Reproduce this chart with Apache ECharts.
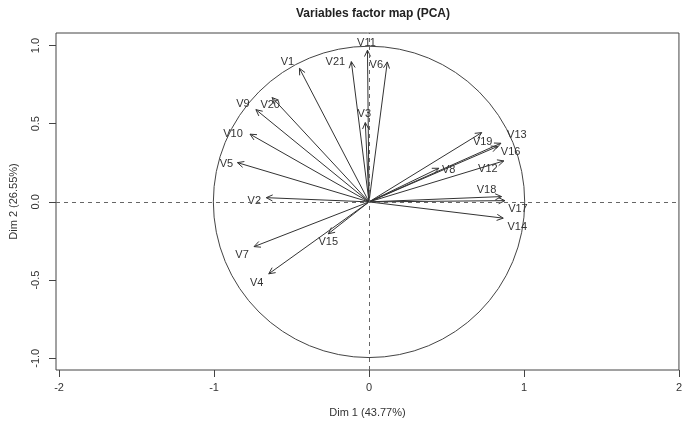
<!DOCTYPE html>
<html><head><meta charset="utf-8">
<script src="https://cdn.jsdelivr.net/npm/echarts@6/dist/echarts.min.js"></script>
<style>html,body{margin:0;padding:0;background:#fff}#c{width:685px;height:426px}</style>
</head><body><div id="c"></div>
<script>
// ---- data ----
const variables = ['V1','V2','V3','V4','V5','V6','V7','V8','V9','V10','V11','V12','V13','V14','V15','V16','V17','V18','V19','V20','V21'];
const dim1 = [-0.449,-0.663,-0.024,-0.647,-0.849, 0.118,-0.742, 0.450,-0.730,-0.768,-0.010, 0.870, 0.851, 0.866,-0.263, 0.830, 0.877, 0.855, 0.727,-0.625,-0.114];
const dim2 = [ 0.854, 0.027, 0.507,-0.460, 0.251, 0.895,-0.286, 0.215, 0.590, 0.433, 0.970, 0.262, 0.375,-0.104,-0.204, 0.355, 0.008, 0.034, 0.443, 0.667, 0.897];
const xTicks = [-2,-1,0,1,2];
const yTicks = [-1,-0.5,0,0.5,1];
const titleText = 'Variables factor map (PCA)';
const xName = 'Dim 1 (43.77%)';
const yName = 'Dim 2 (26.55%)';

// ---- label placement (style, pixel offsets from arrow tip) ----
const labelOffset = {
  V1:[-12,-6], V2:[-12,3], V3:[-1,-9], V4:[-12,9], V5:[-11,1], V6:[-11,3], V7:[-12,8],
  V8:[10,2], V9:[-13,-6], V10:[-17,0], V11:[-1,-7], V12:[-16,8], V13:[16,-8], V14:[14,9],
  V15:[0,8], V16:[13,6], V17:[13,8], V18:[-15,-7], V19:[1,9], V20:[-2,7], V21:[-16,0]
};

const FONT = 'Liberation Sans, Arial, sans-serif';
const INK = '#333';
const arrowData = variables.map((v,i)=>[dim1[i], dim2[i], v]);

const chart = echarts.init(document.getElementById('c'), null, {renderer:'canvas'});
chart.setOption({
  animation:false,
  backgroundColor:'#fff',
  title:{text:titleText, left:368, top:3, textAlign:'center',
    textStyle:{fontFamily:FONT, fontSize:12, fontWeight:'bold', color:'#222'}},
  grid:{left:53, right:1, top:33, bottom:56, show:true, borderColor:'#444', borderWidth:1, backgroundColor:'transparent'},
  xAxis:{type:'value', min:-2.02, max:2.0, name:xName, nameLocation:'middle', nameGap:37,
    nameTextStyle:{fontFamily:FONT, fontSize:11, color:INK},
    axisLine:{show:false, onZero:false}, splitLine:{show:false},
    axisTick:{show:true, length:7, customValues:xTicks, lineStyle:{color:'#444'}},
    axisLabel:{customValues:xTicks, margin:12, fontFamily:FONT, fontSize:11, color:INK,
      formatter:v=>String(v)}},
  yAxis:{type:'value', min:-1.075, max:1.08, name:yName, nameLocation:'middle', nameGap:37, nameRotate:90,
    nameTextStyle:{fontFamily:FONT, fontSize:11, color:INK},
    axisLine:{show:false, onZero:false}, splitLine:{show:false},
    axisTick:{show:true, length:7, customValues:yTicks, lineStyle:{color:'#444'}},
    axisLabel:{customValues:yTicks, margin:15, rotate:90, fontFamily:FONT, fontSize:11, color:INK,
      formatter:v=>v.toFixed(1)}},
  series:[
    {type:'custom', data:[[0,0]], silent:true, z:1,
      renderItem:(params, api)=>{
        const c = api.coord([0,0]);
        const s = api.size([1,1]);
        return {type:'circle', shape:{cx:c[0], cy:c[1], r:(s[0]+s[1])/2},
          style:{fill:null, stroke:'#444', lineWidth:1}};
      },
      markLine:{silent:true, symbol:['none','none'], label:{show:false},
        lineStyle:{color:'#666', type:[4,4], width:1},
        data:[{xAxis:0},{yAxis:0}]}
    },
    {type:'custom', data:arrowData, silent:true, z:3, clip:false,
      encode:{x:0, y:1},
      renderItem:(params, api)=>{
        const o = api.coord([0,0]);
        const t = api.coord([api.value(0), api.value(1)]);
        const name = variables[params.dataIndex];
        const ang = Math.atan2(t[1]-o[1], t[0]-o[0]);
        const L = 7, a = Math.PI/7;
        const h1 = [t[0]-L*Math.cos(ang-a), t[1]-L*Math.sin(ang-a)];
        const h2 = [t[0]-L*Math.cos(ang+a), t[1]-L*Math.sin(ang+a)];
        const off = labelOffset[name] || [0,0];
        const ls = {stroke:INK, lineWidth:1};
        return {type:'group', children:[
          {type:'line', shape:{x1:o[0], y1:o[1], x2:t[0], y2:t[1]}, style:ls},
          {type:'line', shape:{x1:t[0], y1:t[1], x2:h1[0], y2:h1[1]}, style:ls},
          {type:'line', shape:{x1:t[0], y1:t[1], x2:h2[0], y2:h2[1]}, style:ls},
          {type:'text', x:t[0]+off[0], y:t[1]+off[1],
            style:{text:name, fill:INK, font:'11px '+FONT, align:'center', verticalAlign:'middle'}}
        ]};
      }
    }
  ]
});
</script></body></html>
